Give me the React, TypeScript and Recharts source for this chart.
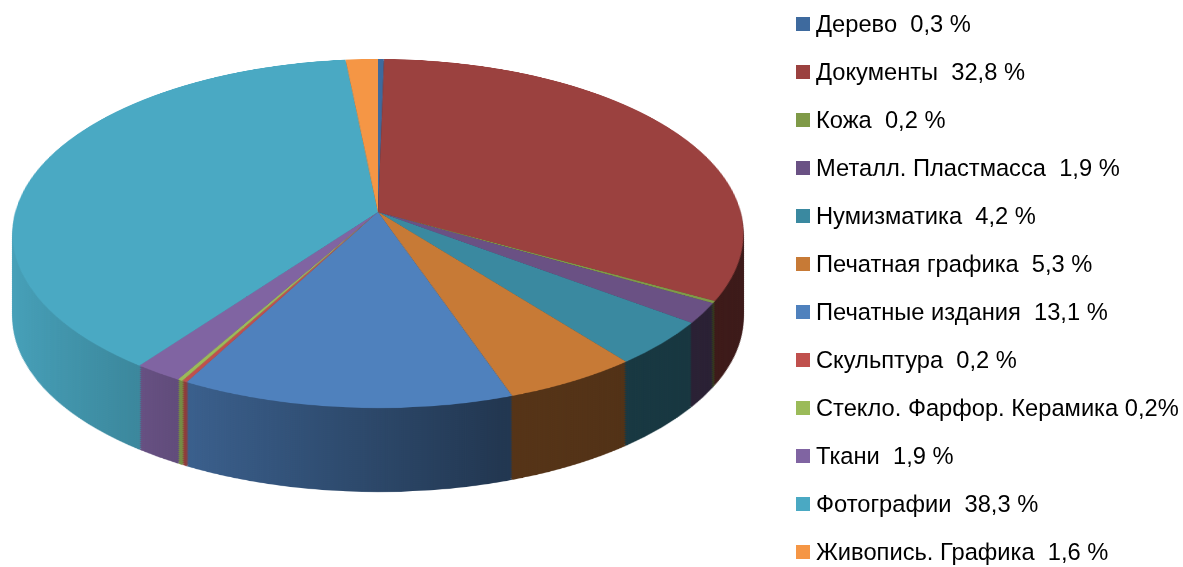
import React from "react";
import { PieChart, Pie, Cell } from "recharts";

const names = [
  "Дерево",
  "Документы",
  "Кожа",
  "Металл. Пластмасса",
  "Нумизматика",
  "Печатная графика",
  "Печатные издания",
  "Скульптура",
  "Стекло. Фарфор. Керамика",
  "Ткани",
  "Фотографии",
  "Живопись. Графика",
];
const values = [0.3, 32.8, 0.2, 1.9, 4.2, 5.3, 13.1, 0.2, 0.2, 1.9, 38.3, 1.6];
const labels = [
  "Дерево  0,3 %",
  "Документы  32,8 %",
  "Кожа  0,2 %",
  "Металл. Пластмасса  1,9 %",
  "Нумизматика  4,2 %",
  "Печатная графика  5,3 %",
  "Печатные издания  13,1 %",
  "Скульптура  0,2 %",
  "Стекло. Фарфор. Керамика 0,2%",
  "Ткани  1,9 %",
  "Фотографии  38,3 %",
  "Живопись. Графика  1,6 %",
];
const colors = [
  "#3e6a9e",
  "#9b413f",
  "#7f9a48",
  "#6a5184",
  "#3a89a0",
  "#c77a36",
  "#4f81bd",
  "#c0504d",
  "#9bbb59",
  "#8064a2",
  "#4aa9c3",
  "#f59645",
];

const data = names.map((n, i) => ({ name: n, value: values[i] }));

const shade = (hex: string, f: number) => {
  const r = Math.round(parseInt(hex.slice(1, 3), 16) * f);
  const g = Math.round(parseInt(hex.slice(3, 5), 16) * f);
  const b = Math.round(parseInt(hex.slice(5, 7), 16) * f);
  return `rgb(${r},${g},${b})`;
};

// flat (untilted) pie geometry
const W = 760;
const R = 365.5;
const CX0 = 380;
const CY0 = 380;

// perspective projection of the flat pie onto the page
const X0 = 378; // apex x on page
const Y0 = 212; // apex y on page
const K = 0.9923;
const M = 0.4703;
const Hh = 3.371e-4;
const THICK = 84;

const mat = [
  K, 0, 0, 0,
  -X0 * Hh, M - Y0 * Hh, 0, -Hh,
  0, 0, 1, 0,
  X0 * (1 + Hh * CY0) - K * CX0, Y0 * (1 + Hh * CY0) - M * CY0, 0, 1 + Hh * CY0,
];
const matStr = `matrix3d(${mat.join(",")})`;

const depths: number[] = [];
for (let d = THICK; d > 0; d -= 2) depths.push(d);

const gradStops = [
  { o: 0, f: 0.97 },
  { o: 164 / W, f: 0.8 },
  { o: 212 / W, f: 0.74 },
  { o: 488 / W, f: 0.43 },
  { o: 1, f: 0.38 },
];

function Layer({ depth, top }: { depth: number; top: boolean }) {
  return (
    <div
      style={{
        position: "fixed",
        left: 0,
        top: 0,
        width: W,
        height: W,
        transformOrigin: "0 0",
        transform: `translateY(${depth}px) ${matStr}`,
      }}
    >
      <PieChart width={W} height={W} margin={{ top: 0, right: 0, bottom: 0, left: 0 }}>
        <Pie
          data={data}
          dataKey="value"
          nameKey="name"
          cx={CX0}
          cy={CY0}
          outerRadius={R}
          startAngle={90}
          endAngle={-270}
          isAnimationActive={false}
          stroke="none"
          labelLine={false}
        >
          {data.map((_, i) => (
            <Cell key={i} fill={top ? colors[i] : `url(#side-${i})`} stroke="none" />
          ))}
        </Pie>
      </PieChart>
    </div>
  );
}

export default function App() {
  return (
    <div style={{ position: "relative", width: 1183, height: 567 }}>
      <svg width={0} height={0} style={{ position: "absolute" }}>
        <defs>
          {colors.map((c, i) => (
            <linearGradient
              key={i}
              id={`side-${i}`}
              gradientUnits="userSpaceOnUse"
              x1={0}
              y1={0}
              x2={W}
              y2={0}
            >
              {gradStops.map((s, k) => (
                <stop key={k} offset={s.o} stopColor={shade(c, s.f)} />
              ))}
            </linearGradient>
          ))}
        </defs>
      </svg>
      {depths.map((d) => (
        <Layer key={d} depth={d} top={false} />
      ))}
      <Layer depth={0} top={true} />
      <div
        style={{
          position: "fixed",
          left: 796,
          top: 0,
          fontFamily: "'Liberation Sans', Arial, sans-serif",
          fontSize: 23.7,
          color: "#000",
        }}
      >
        {labels.map((l, i) => (
          <div
            key={i}
            style={{ height: 48, display: "flex", alignItems: "center", whiteSpace: "pre" }}
          >
            <span
              style={{
                display: "inline-block",
                width: 14,
                height: 14,
                background: colors[i],
                marginRight: 6,
              }}
            />
            <span>{l}</span>
          </div>
        ))}
      </div>
    </div>
  );
}
